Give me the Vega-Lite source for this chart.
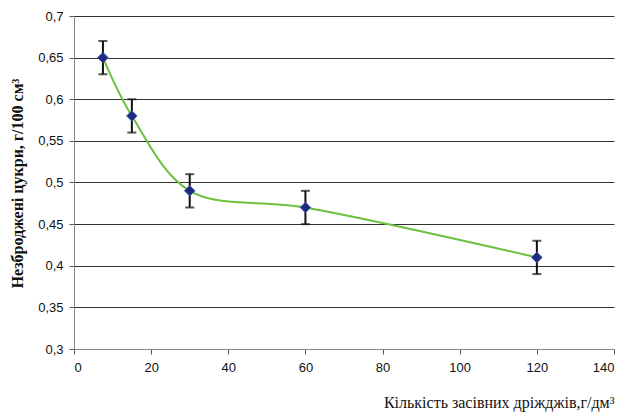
{
  "$schema": "https://vega.github.io/schema/vega-lite/v6.json",
  "width": 540,
  "height": 333,
  "autosize": {"type": "none"},
  "padding": {"left": 74, "top": 16, "right": 14, "bottom": 65},
  "background": "white",
  "config": {"view": {"stroke": null}},
  "data": {"values": [
    {"x": 7.5, "y": 0.65, "lo": 0.63, "hi": 0.67},
    {"x": 15, "y": 0.58, "lo": 0.56, "hi": 0.60},
    {"x": 30, "y": 0.49, "lo": 0.47, "hi": 0.51},
    {"x": 60, "y": 0.47, "lo": 0.45, "hi": 0.49},
    {"x": 120, "y": 0.41, "lo": 0.39, "hi": 0.43}
  ]},
  "encoding": {
    "x": {"field": "x", "type": "quantitative",
      "scale": {"domain": [0, 140], "nice": false, "zero": false},
      "axis": {"values": [0, 20, 40, 60, 80, 100, 120, 140], "grid": false,
        "title": "Кількість засівних дріжджів,г/дм³",
        "titleFont": "Liberation Serif", "titleFontWeight": "normal", "titleFontSize": 16, "titleColor": "#111",
        "titleAnchor": "end", "titleAlign": "right", "titleX": 540, "titleY": 58, "titleBaseline": "alphabetic",
        "labelFont": "Liberation Sans", "labelFontSize": 13, "labelColor": "#111", "labelPadding": 7,
        "domainColor": "#888", "domainWidth": 1, "tickColor": "#555", "tickSize": 5}},
    "y": {"field": "y", "type": "quantitative",
      "scale": {"domain": [0.3, 0.7], "nice": false, "zero": false},
      "axis": {"values": [0.3, 0.35, 0.4, 0.45, 0.5, 0.55, 0.6, 0.65, 0.7], "grid": true,
        "gridColor": "#333", "gridWidth": 1,
        "labelExpr": "replace(format(datum.value, '.2~f'), '.', ',')",
        "title": "Незброджені цукри, г/100 см³",
        "titleFont": "Liberation Serif", "titleFontWeight": "bold", "titleFontSize": 16, "titleColor": "#111",
        "titleAngle": 270, "titleX": -57, "titleY": 167, "titleAlign": "center", "titleBaseline": "middle", "titleAnchor": null,
        "labelFont": "Liberation Sans", "labelFontSize": 13, "labelColor": "#111", "labelPadding": 6,
        "domainColor": "#888", "domainWidth": 1, "tickColor": "#555", "tickSize": 5}}
  },
  "layer": [
    {"mark": {"type": "line", "color": "#6cc03c", "strokeWidth": 2, "interpolate": "catmull-rom"}},
    {"mark": {"type": "rule", "color": "#111", "strokeWidth": 2},
      "encoding": {"y": {"field": "lo", "type": "quantitative"}, "y2": {"field": "hi"}}},
    {"mark": {"type": "tick", "orient": "horizontal", "color": "#111", "thickness": 2, "size": 9},
      "encoding": {"y": {"field": "lo", "type": "quantitative"}}},
    {"mark": {"type": "tick", "orient": "horizontal", "color": "#111", "thickness": 2, "size": 9},
      "encoding": {"y": {"field": "hi", "type": "quantitative"}}},
    {"mark": {"type": "point", "shape": "diamond", "filled": true, "size": 110, "fill": "#1f2a7e", "stroke": "#3a4fb0", "strokeWidth": 1, "opacity": 1}}
  ]
}
